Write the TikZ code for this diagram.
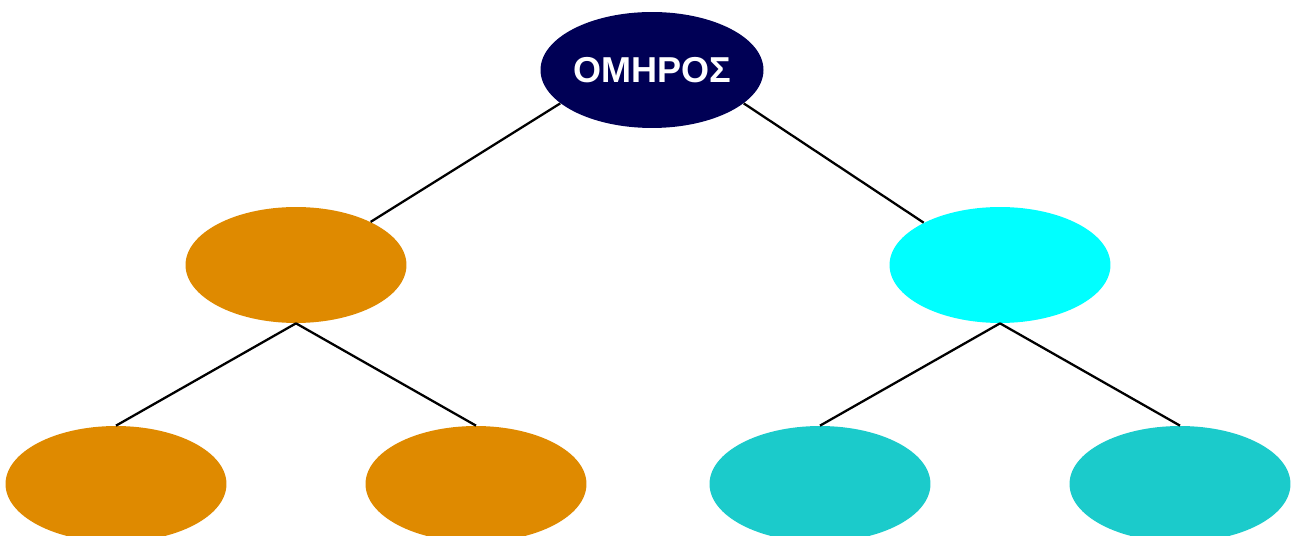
\documentclass[tikz,border=0pt]{standalone}
\usepackage{fontspec}
\setmainfont{Liberation Sans}
\usetikzlibrary{shapes.geometric}
\definecolor{rootblue}{RGB}{0,0,85}
\definecolor{leftorange}{RGB}{223,138,0}
\definecolor{rightcyan}{RGB}{0,255,255}
\definecolor{rightteal}{RGB}{27,203,203}
\begin{document}
\begin{tikzpicture}[x=0.02cm,y=-0.02cm]
\tikzstyle{every node}=[ellipse,inner sep=0pt,minimum width=4.42cm,minimum height=2.32cm]
\tikzstyle{link}=[line width=1.3pt]
%\draw [red!40](0,0) grid[step=100] (1298,536);
\useasboundingbox (0,0) rectangle (1298,536);

\node (root) at (652,70) [fill=rootblue,text=white,font=\bfseries\fontsize{20.5}{24}\selectfont] {ΟΜΗΡΟΣ};
\node (left) at (296,265) [fill=leftorange] {};
\node (right) at (1000,265) [fill=rightcyan] {};
\node (leftA) at (116,484) [fill=leftorange] {};
\node (leftB) at (476,484) [fill=leftorange] {};
\node (rightA) at (820,484) [fill=rightteal] {};
\node (rightB) at (1180,484) [fill=rightteal] {};

\draw [link] (root.200.8) -- (left.30.2);
\draw [link] (root.340.5) -- (right.151);
\draw [link] (left.south) -- (leftA.north);
\draw [link] (left.south) -- (leftB.north);
\draw [link] (right.south) -- (rightA.north);
\draw [link] (right.south) -- (rightB.north);
\end{tikzpicture}
\end{document}
